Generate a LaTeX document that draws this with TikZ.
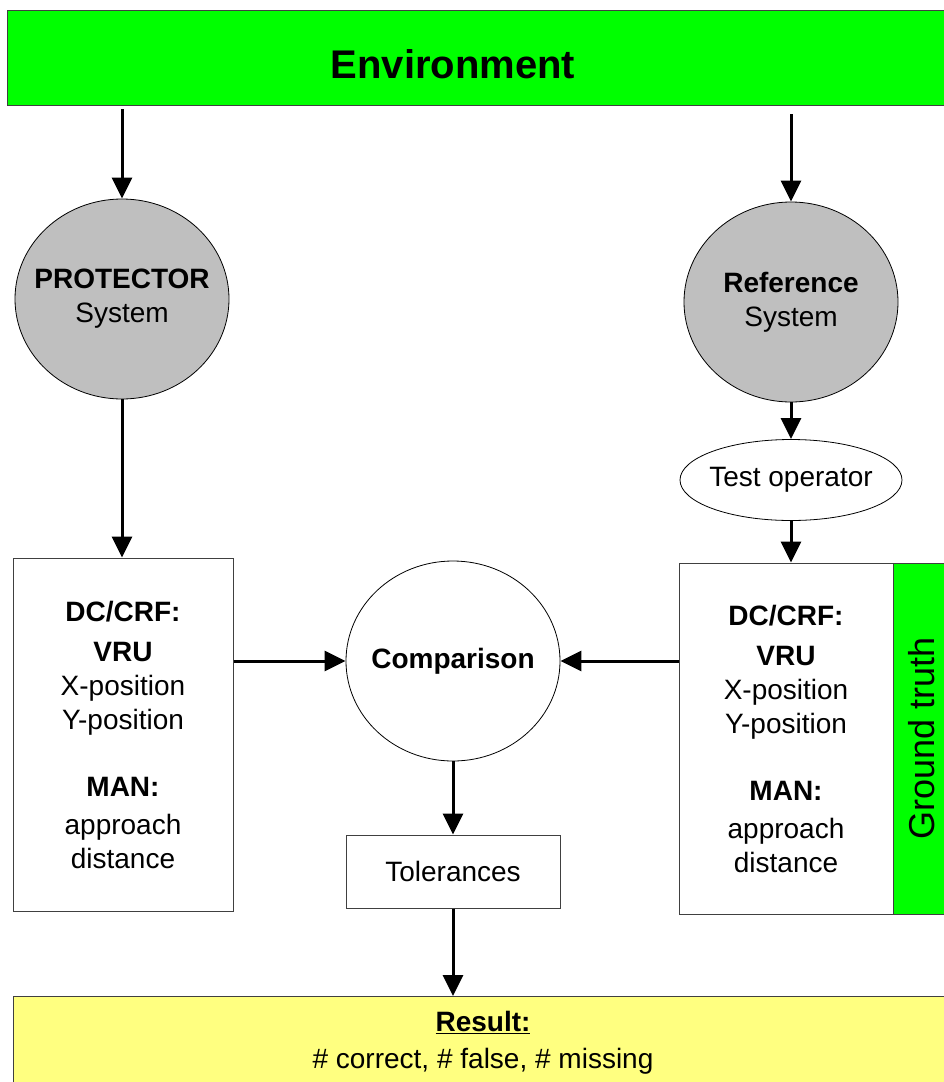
\documentclass[tikz,border=0pt]{standalone}
\usepackage{fontspec}
\setmainfont{Liberation Sans}
\usetikzlibrary{shapes.geometric,arrows.meta}
\definecolor{envgreen}{HTML}{00FF00}
\definecolor{resyellow}{HTML}{FFFF80}
\begin{document}
\begin{tikzpicture}[x=1pt, y=-1pt,
		font=\fontsize{28}{34}\selectfont,
		box/.style={rectangle,draw=black!75,line width=1pt,fill=white,align=center,inner sep=0pt},
		sys/.style={ellipse,draw=black,line width=0.8pt,fill=black!25,inner sep=0pt,
			minimum width=214pt,minimum height=200pt},
		arr/.style={line width=3pt,-{Triangle[width=20pt,length=21pt]}}
		]
	\useasboundingbox (0,0) rectangle (944,1082);
	\clip (0,0) rectangle (944,1082);
	\node [box,fill=envgreen,anchor=north west,minimum width=960pt,minimum height=95pt] (env) at (7,10) {};
	\node [font=\fontsize{40}{48}\selectfont\bfseries] (envtext) at (453,64) {Environment};
	\node [sys,label={[align=center]center:{\textbf{PROTECTOR}\\System}}] (prot) at (122,299) {};
	\node [sys,label={[align=center]center:{\textbf{Reference}\\System}}] (ref) at (791,302) {};
	\node [sys,fill=white,minimum width=222pt,minimum height=81pt,label={center:Test operator}] (oper) at (791,480) {};
	\node [box,minimum width=220pt,minimum height=353pt] (lbox) at (123,734.5)
		{\textbf{DC/CRF:}\\[6pt]\textbf{VRU}\\X-position\\Y-position\\[33pt]\textbf{MAN:}\\[4pt]approach\\distance};
	\node [box,minimum width=214pt,minimum height=351pt] (rbox) at (786,738.5)
		{\textbf{DC/CRF:}\\[6pt]\textbf{VRU}\\X-position\\Y-position\\[33pt]\textbf{MAN:}\\[4pt]approach\\distance};
	\node [box,fill=envgreen,rotate=90,minimum width=351pt,minimum height=58pt,
		font=\fontsize{36}{42}\selectfont] (gt) at (922,738.5) {Ground truth};
	\node [sys,fill=white,label={center:\textbf{Comparison}}] (comp) at (453,661) {};
	\node [box,minimum width=214pt,minimum height=73pt] (tol) at (453,871.5) {Tolerances};
	\node [box,fill=resyellow,anchor=north west,minimum width=960pt,minimum height=100pt] (res) at (13,996) {};
	\node [align=center,font=\fontsize{28}{37}\selectfont] (restext) at (483,1043)
		{\underline{\textbf{Result:}}\\\# correct, \# false, \# missing};
	% connectors
	\draw [arr] ([yshift=-3pt]env.south -| prot.north) -- (prot.north);
	\draw [arr] ([yshift=-8pt]env.south -| ref.north) -- (ref.north);
	\draw [arr] (prot.south) -- (prot.south |- lbox.north);
	\draw [arr] (ref.south) -- (oper.north);
	\draw [arr] (oper.south) -- (oper.south |- rbox.north);
	\draw [arr] (lbox.east |- comp.west) -- (comp.west);
	\draw [arr] (rbox.west |- comp.east) -- (comp.east);
	\draw [arr] (comp.south) -- (tol.north);
	\draw [arr] (tol.south) -- (tol.south |- res.north);
\end{tikzpicture}
\end{document}
